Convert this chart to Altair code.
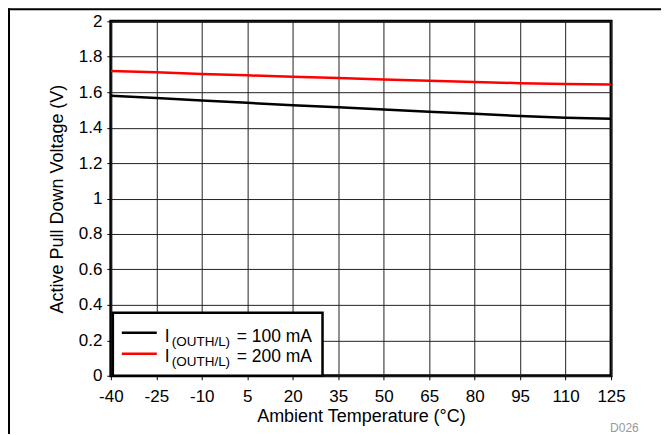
import altair as alt
import pandas as pd

temps = [-40, -25, -10, 5, 20, 35, 50, 65, 80, 95, 110, 125]
v_100ma = [1.58, 1.567, 1.553, 1.54, 1.527, 1.515, 1.503, 1.49, 1.478, 1.466, 1.456, 1.45]
v_200ma = [1.72, 1.712, 1.703, 1.695, 1.687, 1.68, 1.672, 1.665, 1.658, 1.651, 1.646, 1.644]
series_names = ["100 mA", "200 mA"]
series_colors = ["#000000", "#ff0000"]
x_ticks = list(range(-40, 126, 15))
y_ticks = [round(0.2 * i, 1) for i in range(11)]

rows = []
for t, a, b in zip(temps, v_100ma, v_200ma):
    rows.append({"T": t, "V": a, "s": series_names[0]})
    rows.append({"T": t, "V": b, "s": series_names[1]})
df = pd.DataFrame(rows)

FONT = "Liberation Sans"
W, H = 501, 355

lines = alt.Chart(df).mark_line(strokeWidth=2.5, clip=True).encode(
    x=alt.X("T:Q", scale=alt.Scale(domain=[-40, 125], nice=False, zero=False),
            axis=alt.Axis(values=x_ticks, title="Ambient Temperature (°C)",
                          labelExpr="'' + datum.value")),
    y=alt.Y("V:Q", scale=alt.Scale(domain=[0, 2], nice=False),
            axis=alt.Axis(values=y_ticks, title="Active Pull Down Voltage (V)",
                          labelExpr="datum.value == 0 ? '0' : format(datum.value, '.1~f')")),
    color=alt.Color("s:N", scale=alt.Scale(domain=series_names, range=series_colors), legend=None),
)

one = pd.DataFrame({"a": [0]})
base = alt.Chart(one)

legend_box = base.mark_rect(fill="white", stroke="black", strokeWidth=2.5).encode(
    x=alt.value(2), x2=alt.value(212), y=alt.value(292), y2=alt.value(355))

leg_line1 = base.mark_rule(color=series_colors[0], strokeWidth=2.5).encode(
    x=alt.value(11), x2=alt.value(46), y=alt.value(312))
leg_line2 = base.mark_rule(color=series_colors[1], strokeWidth=2.5).encode(
    x=alt.value(11), x2=alt.value(46), y=alt.value(333))

def txt(s, x, y, size, color="black"):
    return base.mark_text(text=s, font=FONT, fontSize=size, align="left",
                          baseline="alphabetic", color=color).encode(
        x=alt.value(x), y=alt.value(y))

legend_texts = [
    txt("I", 54, 321, 17.5), txt("(OUTH/L)", 61, 325, 13.5), txt("= 100 mA", 126, 321, 17.5),
    txt("I", 54, 341, 17.5), txt("(OUTH/L)", 61, 345, 13.5), txt("= 200 mA", 126, 341, 17.5),
]

code_text = base.mark_text(text="D026", font=FONT, fontSize=12, align="left",
                           baseline="alphabetic", color="#999999").encode(
    x=alt.value(500), y=alt.value(411))

frame_top = base.mark_rule(color="black", strokeWidth=2).encode(
    x=alt.value(-103), x2=alt.value(560), y=alt.value(-12))
frame_left = base.mark_rule(color="black", strokeWidth=2).encode(
    x=alt.value(-102), y=alt.value(-13), y2=alt.value(430))

chart = alt.layer(lines, legend_box, leg_line1, leg_line2, *legend_texts, code_text,
                  frame_top, frame_left).properties(
    width=W, height=H,
    autosize=alt.AutoSizeParams(type="none"),
    padding={"left": 103, "top": 13, "right": 50, "bottom": 58},
).configure_view(
    stroke="black", strokeWidth=3
).configure_axis(
    grid=True, gridColor="#222222", gridWidth=1, gridOpacity=1,
    domain=False, tickColor="black", tickSize=4, tickWidth=1,
    labelFont=FONT, labelFontSize=17, labelColor="black", labelPadding=5,
    titleFont=FONT, titleFontSize=18, titleFontWeight="normal", titleColor="black",
).configure_axisX(
    labelPadding=9, titlePadding=3, labelFlush=False,
).configure_axisY(
    titlePadding=12, labelFlush=False,
)

chart.save("out.html", embed_options={"renderer": "svg", "actions": False})
